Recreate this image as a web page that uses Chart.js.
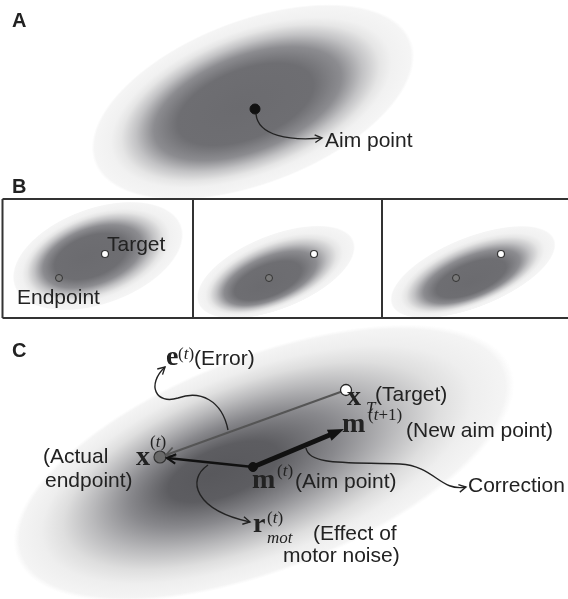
<!DOCTYPE html>
<html>
<head>
<meta charset="utf-8">
<script src="https://cdn.jsdelivr.net/npm/chart.js@4.4.1/dist/chart.umd.min.js"></script>
<style>
  html, body { margin: 0; padding: 0; background: #fff; }
  canvas { display: block; }
</style>
</head>
<body>
<canvas id="diagram" width="568" height="599"></canvas>
<script>
// Gaussian endpoint distributions (A, three B panels, C), diagram units
const blobCx = [253, 98, 276, 473, 264];
const blobCy = [102, 256, 272, 272, 463];
const blobSemiMajor = [170, 89, 84, 88, 265];
const blobSemiMinor = [82, 48, 37, 35, 108];
const blobAngle = [-21, -20, -22, -22, -21];
const blobCoreX = [240, 85, 262, 470, 212];
const blobCoreY = [106, 257, 287, 283, 474];

// Panel A
const aimPointA = { x: 255, y: 109 };

// Panel B: target and endpoint per sub-panel
const targetBX = [105, 314, 501];
const targetBY = [254, 254, 254];
const endpointBX = [59, 269, 456];
const endpointBY = [278, 278, 278];
const panelBEdges = [2.5, 193, 382, 570];
const panelBTop = 199;
const panelBBottom = 318;

// Panel C
const actualEndpoint = { x: 160, y: 457 };
const aimPointC = { x: 253, y: 467 };
const targetC = { x: 346, y: 390 };
const newAimPoint = { x: 344, y: 429 };

// Annotation curves (start, then cubic control triples)
const curveA = [[256, 114], [258, 136], [290, 141], [322, 138]];
const curveError = [[228, 430], [222, 400], [200, 390], [178, 398], [156, 405], [146, 385], [165, 367]];
const curveNoise = [[208, 465], [186, 480], [195, 510], [250, 522]];
const curveCorrection = [[306, 448], [309, 466], [350, 462], [400, 464], [435, 466], [440, 492], [466, 487]];

// Text
const panelLabels = [['A', 12, 27], ['B', 12, 193], ['C', 12, 357]];
const sansLabels = [
    ['Aim point', 325, 147], ['Target', 107, 251], ['Endpoint', 17, 304],
    ['(Error)', 194, 365], ['(Target)', 375, 401], ['(New aim point)', 406, 437],
    ['(Actual', 43, 463], ['endpoint)', 45, 487], ['(Aim point)', 295, 488],
    ['Correction', 468, 492], ['(Effect of', 313, 540], ['motor noise)', 283, 562]
];
const mathLetters = [['e', 166, 365], ['x', 136, 465], ['x', 347, 405], ['m', 342, 432], ['m', 252, 488], ['r', 253, 532]];
const mathScripts = [
    ['(t)', 178, 359], ['(t)', 150, 447], ['(t)', 277, 476], ['(t)', 267, 523],
    ['(t+1)', 368, 420], ['T', 366, 413], ['mot', 267, 543]
];

const SANS = '"Liberation Sans", Arial, sans-serif';
const SERIF = '"Liberation Serif", "Times New Roman", serif';
const INK = '#222';

const stopsAB = [
    [0, '#6b6b6f'], [0.42, '#6e6e72'], [0.58, '#8c8c90'], [0.7, '#c2c2c4'],
    [0.8, '#e5e5e5'], [0.87, '#f1f1f1'], [0.98, '#f5f5f5'], [1, 'rgba(246,246,246,0)']
];
const stopsC = [
    [0, '#58585c'], [0.22, '#5d5d61'], [0.42, '#89898d'], [0.6, '#b9b9bb'],
    [0.75, '#dedede'], [0.86, '#eeeeee'], [0.97, '#f4f4f4'], [1, 'rgba(246,246,246,0)']
];

function drawBlob(chart, i, clip) {
    const ctx = chart.ctx;
    const xs = chart.scales.x, ys = chart.scales.y;
    const cx = xs.getPixelForValue(blobCx[i]);
    const cy = ys.getPixelForValue(blobCy[i]);
    const a = xs.getPixelForValue(blobCx[i] + blobSemiMajor[i]) - cx;
    const b = ys.getPixelForValue(blobCy[i] + blobSemiMinor[i]) - cy;
    const th = blobAngle[i] * Math.PI / 180;
    const dx = xs.getPixelForValue(blobCoreX[i]) - cx;
    const dy = ys.getPixelForValue(blobCoreY[i]) - cy;
    const lx = (dx * Math.cos(th) + dy * Math.sin(th)) / a;
    const ly = (-dx * Math.sin(th) + dy * Math.cos(th)) / b;

    ctx.save();
    if (clip) {
        ctx.beginPath();
        ctx.rect(clip[0], clip[1], clip[2] - clip[0], clip[3] - clip[1]);
        ctx.clip();
    }
    ctx.translate(cx, cy);
    ctx.rotate(th);
    ctx.scale(a, b);
    const g = ctx.createRadialGradient(lx, ly, 0, 0, 0, 1);
    (i === 4 ? stopsC : stopsAB).forEach(s => g.addColorStop(s[0], s[1]));
    ctx.fillStyle = g;
    ctx.beginPath();
    ctx.arc(0, 0, 1, 0, Math.PI * 2);
    ctx.fill();
    ctx.restore();
}

function chevron(ctx, tip, from, len, color, lw) {
    const ang = Math.atan2(tip.y - from.y, tip.x - from.x);
    const half = 0.5;
    ctx.save();
    ctx.strokeStyle = color;
    ctx.lineWidth = lw;
    ctx.beginPath();
    ctx.moveTo(tip.x - len * Math.cos(ang - half), tip.y - len * Math.sin(ang - half));
    ctx.lineTo(tip.x, tip.y);
    ctx.lineTo(tip.x - len * Math.cos(ang + half), tip.y - len * Math.sin(ang + half));
    ctx.stroke();
    ctx.restore();
}

function drawCurve(chart, pts) {
    const ctx = chart.ctx;
    const P = pts.map(p => ({ x: chart.scales.x.getPixelForValue(p[0]), y: chart.scales.y.getPixelForValue(p[1]) }));
    ctx.save();
    ctx.strokeStyle = INK;
    ctx.lineWidth = 1.4;
    ctx.beginPath();
    ctx.moveTo(P[0].x, P[0].y);
    for (let k = 1; k + 2 < P.length; k += 3) {
        ctx.bezierCurveTo(P[k].x, P[k].y, P[k + 1].x, P[k + 1].y, P[k + 2].x, P[k + 2].y);
    }
    ctx.stroke();
    ctx.restore();
    chevron(ctx, P[P.length - 1], P[P.length - 2], 8, INK, 1.4);
}

function drawScript(ctx, str, x, y) {
    let cx = x;
    for (const ch of str) {
        ctx.font = (/[a-zA-Z]/.test(ch) ? 'italic ' : '') + '17px ' + SERIF;
        ctx.fillText(ch, cx, y);
        cx += ctx.measureText(ch).width;
    }
}

const diagramPlugin = {
    id: 'diagram',
    beforeDatasetsDraw(chart) {
        const ctx = chart.ctx;
        const xs = chart.scales.x, ys = chart.scales.y;
        const top = ys.getPixelForValue(panelBTop), bottom = ys.getPixelForValue(panelBBottom);

        drawBlob(chart, 0, null);
        for (let k = 0; k < 3; k++) {
            drawBlob(chart, k + 1, [xs.getPixelForValue(panelBEdges[k]), top,
                xs.getPixelForValue(panelBEdges[k + 1]), bottom]);
        }
        drawBlob(chart, 4, [0, bottom + 1, chart.width, chart.height]);

        // panel B frames
        ctx.save();
        ctx.strokeStyle = '#333';
        ctx.lineWidth = 2;
        ctx.beginPath();
        ctx.moveTo(xs.getPixelForValue(panelBEdges[0]), top);
        ctx.lineTo(chart.width, top);
        ctx.moveTo(xs.getPixelForValue(panelBEdges[0]), bottom);
        ctx.lineTo(chart.width, bottom);
        for (let k = 0; k < 3; k++) {
            const ex = xs.getPixelForValue(panelBEdges[k]);
            ctx.moveTo(ex, top);
            ctx.lineTo(ex, bottom);
        }
        ctx.stroke();
        ctx.restore();
    },
    afterDatasetsDraw(chart) {
        const ctx = chart.ctx;
        const xs = chart.scales.x, ys = chart.scales.y;
        const P = p => ({ x: xs.getPixelForValue(p.x), y: ys.getPixelForValue(p.y) });

        // arrowheads on the straight segments
        const ds = chart.data.datasets;
        const grayLine = ds[ds.length - 3].data, blackLine = ds[ds.length - 2].data;
        chevron(ctx, P(grayLine[1]), P(grayLine[0]), 10, '#555', 1.8);
        chevron(ctx, P(blackLine[1]), P(blackLine[0]), 10, '#111', 2.2);

        const tip = P(newAimPoint), base = P(aimPointC);
        const ang = Math.atan2(tip.y - base.y, tip.x - base.x);
        ctx.save();
        ctx.fillStyle = '#111';
        ctx.beginPath();
        ctx.moveTo(tip.x, tip.y);
        ctx.lineTo(tip.x - 16 * Math.cos(ang) + 6 * Math.sin(ang), tip.y - 16 * Math.sin(ang) - 6 * Math.cos(ang));
        ctx.lineTo(tip.x - 16 * Math.cos(ang) - 6 * Math.sin(ang), tip.y - 16 * Math.sin(ang) + 6 * Math.cos(ang));
        ctx.closePath();
        ctx.fill();
        ctx.restore();

        [curveA, curveError, curveNoise, curveCorrection].forEach(c => drawCurve(chart, c));

        ctx.save();
        ctx.fillStyle = INK;
        ctx.textBaseline = 'alphabetic';
        ctx.font = 'bold 20px ' + SANS;
        panelLabels.forEach(l => ctx.fillText(l[0], xs.getPixelForValue(l[1]), ys.getPixelForValue(l[2])));
        ctx.font = '21px ' + SANS;
        sansLabels.forEach(l => ctx.fillText(l[0], xs.getPixelForValue(l[1]), ys.getPixelForValue(l[2])));
        ctx.font = 'bold 28px ' + SERIF;
        mathLetters.forEach(l => ctx.fillText(l[0], xs.getPixelForValue(l[1]), ys.getPixelForValue(l[2])));
        mathScripts.forEach(l => drawScript(ctx, l[0], xs.getPixelForValue(l[1]), ys.getPixelForValue(l[2])));
        ctx.restore();
    }
};

const pts = (xsArr, ysArr) => xsArr.map((x, i) => ({ x: x, y: ysArr[i] }));

new Chart(document.getElementById('diagram'), {
    type: 'scatter',
    data: {
        datasets: [
            { data: [aimPointA, aimPointC], pointRadius: [5, 4.5], pointBackgroundColor: '#111', pointBorderColor: '#111', order: 0 },
            { data: pts(targetBX, targetBY), pointRadius: 3.5, pointBackgroundColor: '#fff', pointBorderColor: '#333', pointBorderWidth: 1.2, order: 0 },
            { data: pts(endpointBX, endpointBY), pointRadius: 3.5, pointBackgroundColor: '#7a7a7a', pointBorderColor: '#333', pointBorderWidth: 1, order: 0 },
            { data: [actualEndpoint], pointRadius: 6, pointBackgroundColor: '#6a6a6a', pointBorderColor: '#333', pointBorderWidth: 1.2, order: 0 },
            { data: [targetC], pointRadius: 5.5, pointBackgroundColor: '#fff', pointBorderColor: '#222', pointBorderWidth: 1.3, order: 0 },
            // straight segments: error (target -> endpoint), noise (aim -> endpoint), correction (aim -> new aim)
            { data: [targetC, { x: 166, y: 455 }], showLine: true, pointRadius: 0, borderColor: '#555', borderWidth: 2, order: 1 },
            { data: [aimPointC, { x: 167, y: 458 }], showLine: true, pointRadius: 0, borderColor: '#111', borderWidth: 2.5, order: 1 },
            { data: [aimPointC, { x: 332, y: 434 }], showLine: true, pointRadius: 0, borderColor: '#111', borderWidth: 5, order: 1 }
        ]
    },
    options: {
        responsive: false,
        animation: false,
        devicePixelRatio: 1,
        layout: { padding: 0, autoPadding: false },
        plugins: { legend: { display: false }, tooltip: { enabled: false } },
        scales: {
            x: { type: 'linear', min: 0, max: 568, display: false },
            y: { type: 'linear', min: 0, max: 599, reverse: true, display: false }
        },
        elements: { point: { hoverRadius: 0 } }
    },
    plugins: [diagramPlugin]
});
</script>
</body>
</html>
